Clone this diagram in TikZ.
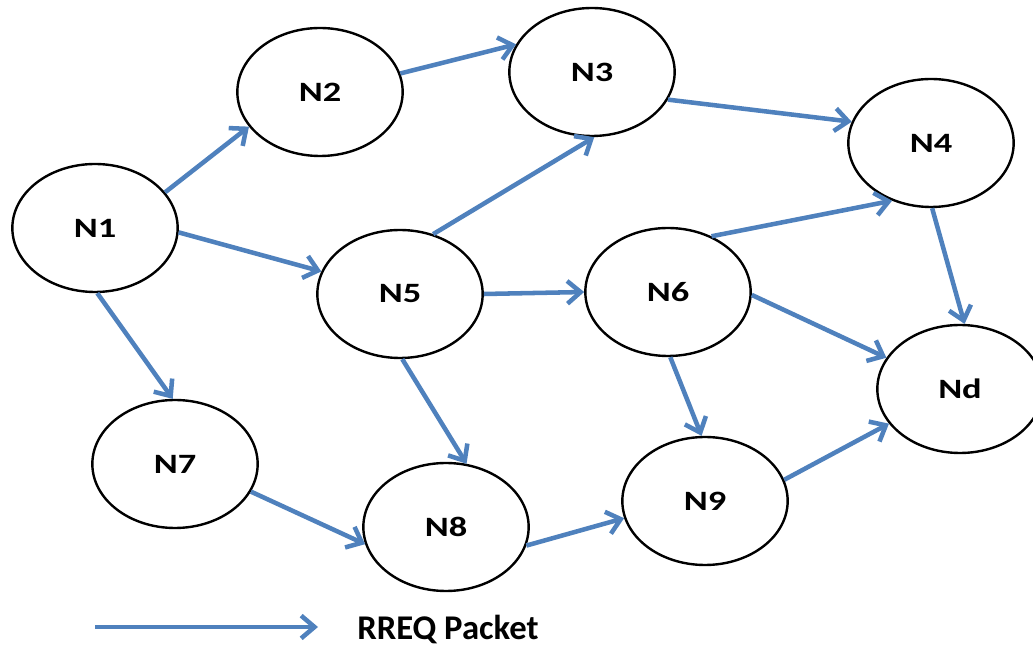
\documentclass[tikz,border=0pt]{standalone}
\usepackage{fontspec}
\setmainfont{Carlito}
\newfontfamily\nodefont[FakeStretch=1.3]{Carlito}
\usetikzlibrary{shapes.geometric,arrows.meta}
\definecolor{rreqblue}{RGB}{79,129,189}

\begin{document}
\begin{tikzpicture}[x=0.75pt,y=-0.75pt,
    nd/.style={ellipse,draw=black,line width=1.8pt,fill=white,
      minimum width=124pt,minimum height=96pt,inner sep=0pt,
      font=\nodefont\bfseries\fontsize{21}{24}\selectfont},
    rreq/.style={rreqblue,line width=3.4pt,-{Straight Barb[length=10pt,width=17pt]}}]
    \useasboundingbox (0,0) rectangle (1033,648);
    \foreach \n/\x/\y in {N1/95/228,N2/320/92,N3/592/72,N4/931/143,
        N5/400/294,N6/668/292,Nd/960/389,N7/175/464,N8/446/527,N9/705/501}
      \node[nd] (\n) at (\x,\y) {\n};
    \foreach \a/\b in {N1.27/N2.206,N2.13/N3.160,N3.-20/N4.165,
        N1.-3/N5.164,N5.61/N3.-88,N1.-88/N7.92,N5.0/N6.180,
        N6.52/N4.236,N4.-89/Nd.86,N6.-2/Nd.157,N5.-88/N8.72,
        N6.-88/N9.93,N7.-20/N8.192,N8.-13/N9.192,N9.15/Nd.206}
      \draw[rreq] (\a) -- (\b);
    \coordinate (keyL) at (95,627);
    \coordinate (keyR) at (318,627);
    \draw[rreq] (keyL) -- (keyR);
    \node[anchor=base west,inner sep=0pt,
      font=\bfseries\fontsize{26}{30}\selectfont] (key) at (357,640) {RREQ Packet};
\end{tikzpicture}
\end{document}
